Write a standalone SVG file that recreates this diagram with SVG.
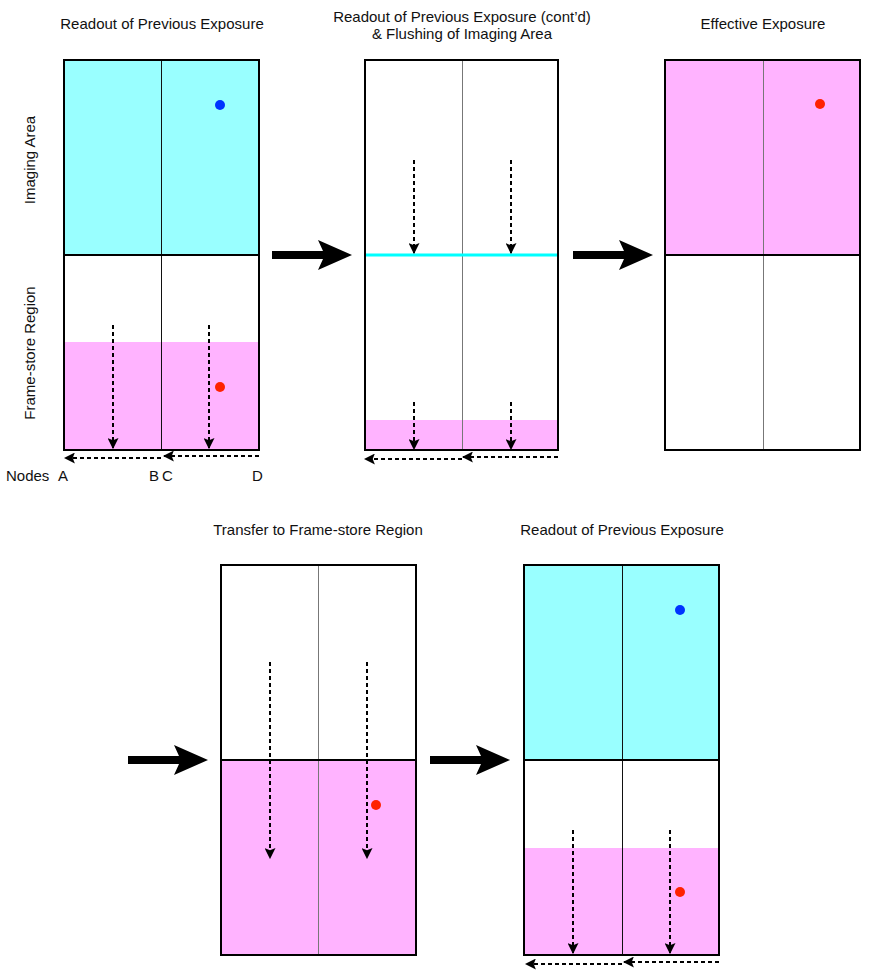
<svg xmlns="http://www.w3.org/2000/svg" width="872" height="971" viewBox="0 0 872 971">
<defs>
<style>
text{font-family:"Liberation Sans",Arial,sans-serif;font-size:15px;fill:#111}
.t{text-anchor:middle}
.frame{fill:none;stroke:#000;stroke-width:2}
.mid{stroke:#000;stroke-width:2}
.vd{stroke:#777;stroke-width:1}
.vdk{stroke:#111;stroke-width:1}
.cy{fill:#99FFFF}
.pk{fill:#FFB3FF}
.dash{stroke:#000;stroke-width:2;stroke-dasharray:4 3;fill:none}
.big{fill:#000}
</style>
<marker id="ah" viewBox="0 0 10 10" refX="9" refY="5" markerWidth="5.5" markerHeight="5.5" orient="auto" markerUnits="strokeWidth">
<path d="M0,0 L10,5 L0,10 L2,5 Z" fill="#000"/>
</marker>
</defs>
<rect width="872" height="971" fill="#fff"/>

<g id="labels">
<text x="162" y="29" class="t">Readout of Previous Exposure</text>
<text x="462" y="22" class="t">Readout of Previous Exposure (cont’d)</text>
<text x="462" y="39" class="t">&amp; Flushing of Imaging Area</text>
<text x="763" y="29" class="t">Effective Exposure</text>
<text x="318" y="535" class="t">Transfer to Frame-store Region</text>
<text x="622" y="535" class="t">Readout of Previous Exposure</text>
<text transform="translate(35,160) rotate(-90)" class="t">Imaging Area</text>
<text transform="translate(35,353) rotate(-90)" class="t">Frame-store Region</text>
<text x="6" y="481">Nodes</text>
<text x="58" y="481">A</text>
<text x="149" y="481">B</text>
<text x="162" y="481">C</text>
<text x="252" y="481">D</text>
</g>

<g id="panel1">
<rect x="64" y="60" width="195" height="195" class="cy"/>
<rect x="64" y="342" width="195" height="108" class="pk"/>
<line x1="161.5" y1="60" x2="161.5" y2="450" class="vdk"/>
<line x1="64" y1="255" x2="259" y2="255" class="mid"/>
<rect x="64" y="60" width="195" height="390" class="frame"/>
<circle cx="220" cy="105" r="5" fill="#0033FF"/>
<circle cx="220" cy="387" r="5" fill="#FF2200"/>
</g>

<g id="panel2">
<rect x="365" y="420" width="193" height="30" class="pk"/>
<line x1="462.5" y1="60" x2="462.5" y2="450" class="vd"/>
<line x1="365" y1="255" x2="558" y2="255" stroke="#00FFFF" stroke-width="3"/>
<rect x="365" y="60" width="193" height="390" class="frame"/>
</g>

<g id="panel3">
<rect x="665" y="60" width="195" height="195" class="pk"/>
<line x1="763.5" y1="60" x2="763.5" y2="450" class="vd"/>
<line x1="665" y1="255" x2="860" y2="255" class="mid"/>
<rect x="665" y="60" width="195" height="390" class="frame"/>
<circle cx="820" cy="104" r="5" fill="#FF2200"/>
</g>

<g id="panel4">
<rect x="221" y="760" width="195" height="195" class="pk"/>
<line x1="318.5" y1="565" x2="318.5" y2="955" class="vd"/>
<line x1="221" y1="760" x2="416" y2="760" class="mid"/>
<rect x="221" y="565" width="195" height="390" class="frame"/>
<circle cx="376" cy="805" r="5" fill="#FF2200"/>
</g>

<g id="panel5">
<rect x="524" y="565" width="195" height="195" class="cy"/>
<rect x="524" y="848" width="195" height="107" class="pk"/>
<line x1="622.5" y1="565" x2="622.5" y2="955" class="vdk"/>
<line x1="524" y1="760" x2="719" y2="760" class="mid"/>
<rect x="524" y="565" width="195" height="390" class="frame"/>
<circle cx="680" cy="610" r="5" fill="#0033FF"/>
<circle cx="680" cy="892" r="5" fill="#FF2200"/>
</g>

<g id="connectors">
<line x1="113" y1="325" x2="113" y2="448" class="dash" marker-end="url(#ah)"/>
<line x1="209" y1="325" x2="209" y2="448" class="dash" marker-end="url(#ah)"/>
<line x1="259" y1="456" x2="164" y2="456" class="dash" marker-end="url(#ah)"/>
<line x1="161" y1="458" x2="65" y2="458" class="dash" marker-end="url(#ah)"/>
<line x1="414" y1="160" x2="414" y2="253" class="dash" marker-end="url(#ah)"/>
<line x1="511" y1="160" x2="511" y2="253" class="dash" marker-end="url(#ah)"/>
<line x1="414" y1="402" x2="414" y2="449" class="dash" marker-end="url(#ah)"/>
<line x1="511" y1="402" x2="511" y2="449" class="dash" marker-end="url(#ah)"/>
<line x1="558" y1="457" x2="463" y2="457" class="dash" marker-end="url(#ah)"/>
<line x1="462" y1="459" x2="365" y2="459" class="dash" marker-end="url(#ah)"/>
<line x1="270" y1="662" x2="270" y2="858" class="dash" marker-end="url(#ah)"/>
<line x1="367" y1="662" x2="367" y2="858" class="dash" marker-end="url(#ah)"/>
<line x1="573" y1="830" x2="573" y2="953" class="dash" marker-end="url(#ah)"/>
<line x1="670" y1="830" x2="670" y2="953" class="dash" marker-end="url(#ah)"/>
<line x1="719" y1="962" x2="624" y2="962" class="dash" marker-end="url(#ah)"/>
<line x1="622" y1="964" x2="526" y2="964" class="dash" marker-end="url(#ah)"/>
<path d="M272,251 H323 L318,240 L352,255 L318,270 L323,259 H272 Z" class="big"/>
<path d="M573,251 H624 L619,240 L653,255 L619,270 L624,259 H573 Z" class="big"/>
<path d="M128,756 H179 L174,745 L208,760 L174,775 L179,764 H128 Z" class="big"/>
<path d="M430,756 H481 L476,745 L510,760 L476,775 L481,764 H430 Z" class="big"/>
</g>
</svg>
